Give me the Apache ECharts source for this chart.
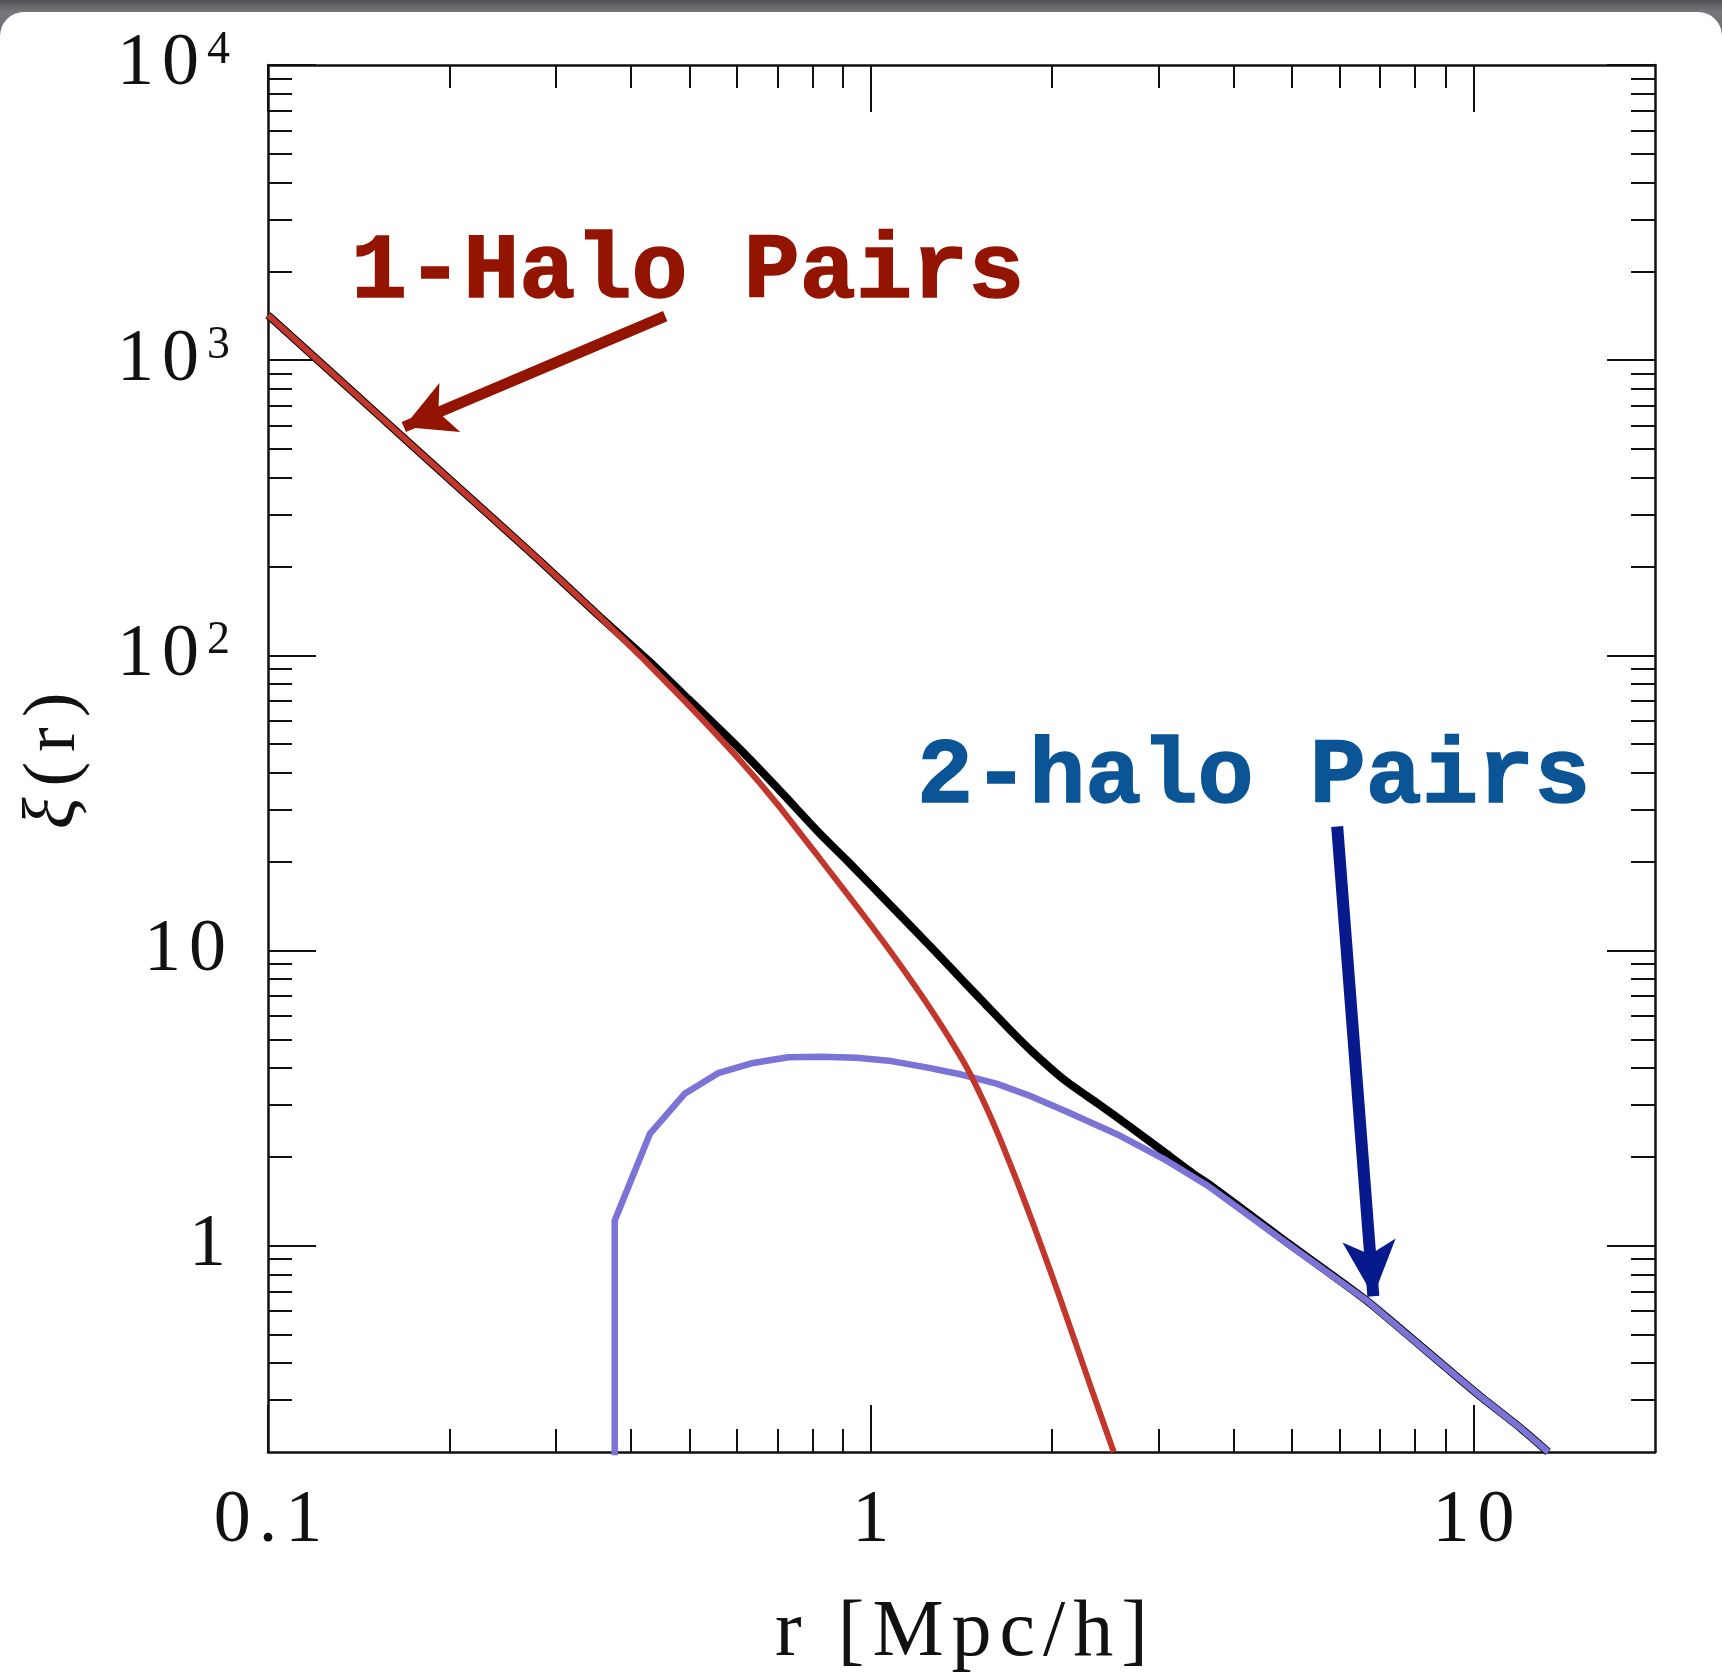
<!DOCTYPE html>
<html>
<head>
<meta charset="utf-8">
<script src="https://cdn.jsdelivr.net/npm/echarts@6/dist/echarts.min.js"></script>
<style>
  html, body { margin: 0; padding: 0; width: 1722px; height: 1678px; overflow: hidden;
    background: linear-gradient(to bottom, #4f4f54 0px, #76767b 12px, #6a6a6f 40px); }
  #card { position: absolute; left: 0; top: 12px; width: 1722px; height: 1666px; background: #ffffff;
    border-radius: 24px 24px 0 0; }
  #chart { position: absolute; left: 0; top: 0; width: 1722px; height: 1678px; }
</style>
</head>
<body>
<div id="card"></div>
<div id="chart"></div>
<script>
// ---------------- data ----------------
// x: r [Mpc/h], y: xi(r)
const oneHaloR  = [0.1, 0.15, 0.2, 0.2825, 0.35, 0.42, 0.5, 0.6066, 0.7, 0.823, 0.96, 1.103, 1.27, 1.423, 1.53, 1.636, 1.75, 1.858, 2.0, 2.111, 2.337, 2.53];
const oneHaloXi = [1421, 672, 395, 209, 139, 96.9, 67.4, 44.1, 31.3, 20.5, 13.64, 9.31, 6.14, 4.22, 3.16, 2.32, 1.645, 1.191, 0.788, 0.576, 0.316, 0.2];

const twoHaloR  = [0.376, 0.376, 0.430, 0.491, 0.558, 0.638, 0.729, 0.828, 0.947, 1.082, 1.237, 1.414, 1.616, 1.835, 2.111, 2.556, 3.093, 3.65, 4.83, 6.64, 9.12, 10.34, 11.97, 13.3];
const twoHaloXi = [0.1, 1.218, 2.39, 3.27, 3.84, 4.16, 4.35, 4.37, 4.33, 4.22, 4.02, 3.80, 3.54, 3.22, 2.85, 2.39, 1.945, 1.58, 1.04, 0.653, 0.378, 0.305, 0.241, 0.2];

const totalR  = [0.1, 0.15, 0.2, 0.2825, 0.35, 0.43, 0.5, 0.6066, 0.7, 0.823, 0.917, 1.103, 1.285, 1.423, 1.55, 1.7, 1.851, 2.1, 2.38, 2.699, 3.063, 3.474, 3.65, 4.83, 6.64, 9.12, 10.34, 11.97, 13.3];
const totalXi = [1421, 672, 395, 209, 139, 95, 70.6, 48.1, 35.5, 24.9, 20.0, 13.57, 9.82, 7.89, 6.57, 5.40, 4.55, 3.63, 3.03, 2.52, 2.08, 1.72, 1.61, 1.05, 0.653, 0.378, 0.305, 0.241, 0.2];

// axis ticks and labels
const xMin = 0.1, xMax = 20;
const yMin = 0.2, yMax = 10000;
const xMajorTicks = [0.1, 1, 10];
const xTickLabels = ['0.1', '1', '10'];
const xMinorTicks = [0.2, 0.3, 0.4, 0.5, 0.6, 0.7, 0.8, 0.9, 2, 3, 4, 5, 6, 7, 8, 9];
const yMajorTicks = [1, 10, 100, 1000, 10000];
const yTickBase = ['1', '10', '10', '10', '10'];
const yTickExp  = ['', '', '2', '3', '4'];
const yMinorTicks = [0.3, 0.4, 0.5, 0.6, 0.7, 0.8, 0.9, 2, 3, 4, 5, 6, 7, 8, 9,
  20, 30, 40, 50, 60, 70, 80, 90, 200, 300, 400, 500, 600, 700, 800, 900,
  2000, 3000, 4000, 5000, 6000, 7000, 8000, 9000];
const xAxisTitle = 'r [Mpc/h]';
const yAxisTitleSymbol = 'ξ';
const yAxisTitleRest = '(r)';

// annotations
const annotationTexts = ['1-Halo Pairs', '2-halo Pairs'];
const arrow1Start = [0.456, 1410], arrow1Tip = [0.168, 594];
const arrow2Start = [5.94, 26.3],  arrow2Tip = [6.82, 0.674];

// ---------------- chart ----------------
const zip = (a, b) => a.map((v, i) => [v, b[i]]);
const nearestIdx = (arr, v) => {
  let best = 0, bd = Infinity;
  arr.forEach((t, i) => { const d = Math.abs(Math.log10(t) - Math.log10(v)); if (d < bd) { bd = d; best = i; } });
  return best;
};
// spread characters a little (the reference face is wide): one rich token per character
const spaced = (str, key) => str.split('').map(ch => '{' + key + '|' + ch + '}').join('');

const serif = 'Liberation Serif';
const axisCol = '#111';
const lineSt = { color: axisCol, width: 2.5 };
const tickSt = { color: axisCol, width: 2 };
const digitStyle = { fontFamily: serif, fontSize: 74, lineHeight: 74, color: axisCol, padding: [0, 4, 0, 4] };

function xAx(pos, major, withLabels) {
  return {
    type: 'log', logBase: 10, min: xMin, max: xMax, position: pos, gridIndex: 0,
    axisLine: { show: major, onZero: false, lineStyle: lineSt },
    axisTick: { show: true, inside: true, length: major ? 47 : 23,
      customValues: major ? xMajorTicks : xMinorTicks, lineStyle: tickSt },
    minorTick: { show: false }, splitLine: { show: false },
    axisLabel: withLabels ? {
      show: true, customValues: xMajorTicks, margin: 33,
      formatter: (v) => spaced(xTickLabels[nearestIdx(xMajorTicks, v)], 'd'),
      rich: { d: digitStyle }
    } : { show: false },
    name: withLabels ? spaced(xAxisTitle, 'c') : '',
    nameLocation: 'middle', nameGap: 142, nameMoveOverlap: false,
    nameTextStyle: {
      color: axisCol,
      rich: { c: { fontFamily: serif, fontSize: 80, lineHeight: 80, color: axisCol, padding: [0, 4, 0, 4] } }
    }
  };
}
function yAx(pos, major, withLabels) {
  return {
    type: 'log', logBase: 10, min: yMin, max: yMax, position: pos, gridIndex: 0,
    axisLine: { show: major, onZero: false, lineStyle: lineSt },
    axisTick: { show: true, inside: true, length: major ? 48 : 24,
      customValues: major ? yMajorTicks : yMinorTicks, lineStyle: tickSt },
    minorTick: { show: false }, splitLine: { show: false },
    axisLabel: withLabels ? {
      show: true, customValues: yMajorTicks, margin: 38,
      formatter: (v) => {
        const i = nearestIdx(yMajorTicks, v);
        return spaced(yTickBase[i], 'd') + (yTickExp[i] ? '{s|' + yTickExp[i] + '}' : '');
      },
      rich: {
        d: digitStyle,
        s: { fontFamily: serif, fontSize: 46, lineHeight: 50, verticalAlign: 'top', color: axisCol, padding: [0, 0, 0, 4] }
      }
    } : { show: false },
    name: withLabels ? '{i|' + yAxisTitleSymbol + '}' + spaced(yAxisTitleRest, 'n') : '',
    nameLocation: 'middle', nameGap: 176, nameRotate: 90, nameMoveOverlap: false,
    nameTextStyle: {
      color: axisCol,
      rich: {
        i: { fontFamily: serif, fontSize: 74, fontStyle: 'italic', color: axisCol, padding: [0, 6, 0, 0] },
        n: { fontFamily: serif, fontSize: 74, color: axisCol, padding: [0, 5, 0, 5] }
      }
    }
  };
}

const chart = echarts.init(document.getElementById('chart'), null, { renderer: 'canvas' });
chart.setOption({
  animation: false,
  backgroundColor: 'transparent',
  grid: { left: 268, right: 67, top: 65, bottom: 226, containLabel: false, outerBoundsMode: 'none' },
  xAxis: [xAx('bottom', true, true), xAx('bottom', false, false), xAx('top', true, false), xAx('top', false, false)],
  yAxis: [yAx('left', true, true), yAx('left', false, false), yAx('right', true, false), yAx('right', false, false)],
  series: [
    {
      name: 'total', type: 'line', xAxisIndex: 0, yAxisIndex: 0, data: zip(totalR, totalXi),
      showSymbol: false, symbol: 'none', smooth: 0.2, clip: true, silent: true, z: 2,
      lineStyle: { color: '#000000', width: 8 }
    },
    {
      name: '2-halo', type: 'line', xAxisIndex: 0, yAxisIndex: 0, data: zip(twoHaloR, twoHaloXi),
      showSymbol: false, symbol: 'none', smooth: false, clip: true, silent: true, z: 3,
      lineStyle: { color: '#7b73d6', width: 6.5 },
      markLine: {
        silent: true, animation: false, symbol: ['none', 'arrow'], symbolSize: [0, 56],
        label: { show: false }, emphasis: { disabled: true },
        lineStyle: { color: '#071a8d', width: 12, type: 'solid', cap: 'butt' },
        data: [[{ coord: arrow2Start }, { coord: arrow2Tip, symbolSize: [40, 56] }]]
      }
    },
    {
      name: '1-halo', type: 'line', xAxisIndex: 0, yAxisIndex: 0, data: zip(oneHaloR, oneHaloXi),
      showSymbol: false, symbol: 'none', smooth: 0.15, clip: true, silent: true, z: 4,
      lineStyle: { color: '#c1372c', width: 6 },
      markLine: {
        silent: true, animation: false, symbol: ['none', 'arrow'], symbolSize: [0, 50],
        label: { show: false }, emphasis: { disabled: true },
        lineStyle: { color: '#931400', width: 11, type: 'solid', cap: 'butt' },
        data: [[{ coord: arrow1Start }, { coord: arrow1Tip, symbolSize: [40, 50] }]]
      }
    }
  ],
  graphic: [
    {
      type: 'text', x: 351, y: 273, z: 10, silent: true,
      style: {
        text: annotationTexts[0], fontFamily: 'Liberation Mono', fontWeight: 'bold', fontSize: 93.5,
        fill: '#931400', stroke: '#931400', lineWidth: 1.5, align: 'left', verticalAlign: 'middle',
        shadowColor: 'rgba(0,0,0,0.45)', shadowBlur: 5, shadowOffsetX: 2, shadowOffsetY: 3
      }
    },
    {
      type: 'text', x: 917, y: 778, z: 10, silent: true,
      style: {
        text: annotationTexts[1], fontFamily: 'Liberation Mono', fontWeight: 'bold', fontSize: 93.5,
        fill: '#0b5596', stroke: '#0b5596', lineWidth: 1.5, align: 'left', verticalAlign: 'middle',
        shadowColor: 'rgba(0,0,0,0.45)', shadowBlur: 5, shadowOffsetX: 2, shadowOffsetY: 3
      }
    }
  ]
});
</script>
</body>
</html>
